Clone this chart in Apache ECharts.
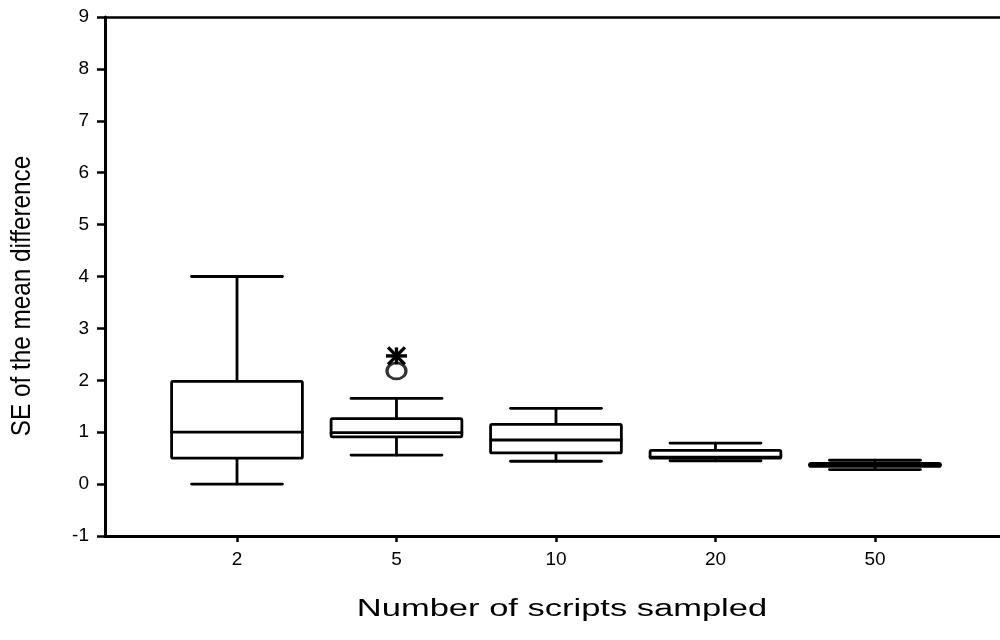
<!DOCTYPE html>
<html>
<head>
<meta charset="utf-8">
<script src="https://cdn.jsdelivr.net/npm/echarts@6/dist/echarts.min.js"></script>
<style>
  html, body { margin: 0; padding: 0; background: #fff; }
  #chart { width: 1000px; height: 640px; }
</style>
</head>
<body>
<div id="chart"></div>
<script>
// ---- data ----
const categories = ['2', '5', '10', '20', '50'];
const minVals    = [0.00, 0.56, 0.44, 0.45, 0.28];
const q1Vals     = [0.50, 0.91, 0.60, 0.50, 0.34];
const medVals    = [1.00, 0.99, 0.85, 0.52, 0.37];
const q3Vals     = [1.98, 1.26, 1.15, 0.65, 0.40];
const maxVals    = [4.00, 1.65, 1.46, 0.79, 0.46];
const outlierCats = ['5'];
const outlierVals = [2.18];
const extremeCats = ['5'];
const extremeVals = [2.47];
const yTicks = [-1, 0, 1, 2, 3, 4, 5, 6, 7, 8, 9];
const xTitle = 'Number of scripts sampled';
const yTitle = 'SE of the mean difference';

const xPos = categories.map((c, i) => i + 1);
const boxData = categories.map((c, i) => [xPos[i], minVals[i], q1Vals[i], medVals[i], q3Vals[i], maxVals[i]]);
const outlierData = outlierCats.map((c, i) => [categories.indexOf(c) + 1, outlierVals[i]]);
const extremeData = extremeCats.map((c, i) => [categories.indexOf(c) + 1, extremeVals[i]]);

const LW = 2.8;
const FONT = '"Liberation Sans", Arial, sans-serif';

const chart = echarts.init(document.getElementById('chart'), null, { renderer: 'canvas' });

const xMin = 0.1724, xMax = 5.784;

chart.setOption({
  animation: false,
  backgroundColor: '#ffffff',
  grid: { left: 105, right: 0, top: 17, bottom: 104 },
  graphic: [{
    type: 'text',
    x: 562, y: 610,
    scaleX: 1.5,
    style: { text: xTitle, fill: '#000', font: '23px ' + FONT, align: 'center', verticalAlign: 'middle' }
  }, {
    type: 'text',
    x: 23, y: 296,
    rotation: Math.PI / 2,
    scaleX: 0.9,
    style: { text: yTitle, fill: '#000', font: '27px ' + FONT, align: 'center', verticalAlign: 'middle' }
  }],
  xAxis: [{
    type: 'value',
    min: xMin, max: xMax,
    splitLine: { show: false },
    axisLine: { show: true, onZero: false, lineStyle: { color: '#000', width: 3 } },
    axisTick: { show: true, customValues: xPos, length: 6, lineStyle: { color: '#000', width: 2.5 } },
    axisLabel: {
      customValues: xPos, margin: 14, color: '#000', fontSize: 19, fontFamily: FONT,
      formatter: v => categories[Math.round(v) - 1] || ''
    }
  }, {
    type: 'value',
    position: 'top',
    min: xMin, max: xMax,
    splitLine: { show: false },
    axisLine: { show: true, onZero: false, lineStyle: { color: '#000', width: 2.5 } },
    axisTick: { show: false },
    axisLabel: { show: false }
  }],
  yAxis: {
    type: 'value',
    min: -1, max: 9, interval: 1,
    splitLine: { show: false },
    axisLine: { show: true, onZero: false, lineStyle: { color: '#000', width: 3 } },
    axisTick: { show: true, length: 8, lineStyle: { color: '#000', width: 2.5 } },
    axisLabel: { margin: 16, color: '#000', fontSize: 19, fontFamily: FONT,
      formatter: v => (yTicks.indexOf(v) >= 0 ? String(v) : '') }
  },
  series: [{
    type: 'custom',
    data: boxData,
    encode: { x: 0, y: [1, 2, 3, 4, 5] },
    renderItem: function (params, api) {
      const x = api.value(0);
      const cx = api.coord([x, 0])[0];
      const yMinP = api.coord([x, api.value(1)])[1];
      const yQ1 = api.coord([x, api.value(2)])[1];
      const yMed = api.coord([x, api.value(3)])[1];
      const yQ3 = api.coord([x, api.value(4)])[1];
      const yMaxP = api.coord([x, api.value(5)])[1];
      const unit = api.size([1, 0])[0];
      const hw = unit * 0.41;
      const cw = unit * 0.285;
      const st = { stroke: '#000', lineWidth: LW, fill: null, lineCap: 'round' };
      return {
        type: 'group',
        children: [
          { type: 'line', shape: { x1: cx, y1: yMaxP, x2: cx, y2: yQ3 }, style: st },
          { type: 'line', shape: { x1: cx, y1: yQ1, x2: cx, y2: yMinP }, style: st },
          { type: 'line', shape: { x1: cx - cw, y1: yMaxP, x2: cx + cw, y2: yMaxP }, style: st },
          { type: 'line', shape: { x1: cx - cw, y1: yMinP, x2: cx + cw, y2: yMinP }, style: st },
          { type: 'rect', shape: { x: cx - hw, y: yQ3, width: 2 * hw, height: yQ1 - yQ3, r: 1.5 },
            style: { stroke: '#000', lineWidth: LW, fill: '#fff' } },
          { type: 'line', shape: { x1: cx - hw, y1: yMed, x2: cx + hw, y2: yMed }, style: st }
        ]
      };
    }
  }, {
    type: 'scatter',
    data: outlierData,
    symbol: 'circle',
    symbolSize: [19, 16],
    itemStyle: { color: '#fff', borderColor: '#000', borderWidth: 3 },
    z: 3
  }, {
    type: 'custom',
    data: extremeData,
    z: 4,
    renderItem: function (params, api) {
      const p = api.coord([api.value(0), api.value(1)]);
      const rx = 10.5, ry = 8.5;
      const st = { stroke: '#000', lineWidth: 3.4, fill: null };
      return {
        type: 'group',
        children: [
          { type: 'line', shape: { x1: p[0] - rx, y1: p[1], x2: p[0] + rx, y2: p[1] }, style: st },
          { type: 'line', shape: { x1: p[0], y1: p[1] - ry, x2: p[0], y2: p[1] + ry }, style: st },
          { type: 'line', shape: { x1: p[0] - rx * 0.8, y1: p[1] - ry, x2: p[0] + rx * 0.8, y2: p[1] + ry }, style: st },
          { type: 'line', shape: { x1: p[0] - rx * 0.8, y1: p[1] + ry, x2: p[0] + rx * 0.8, y2: p[1] - ry }, style: st }
        ]
      };
    }
  }]
});
</script>
</body>
</html>
